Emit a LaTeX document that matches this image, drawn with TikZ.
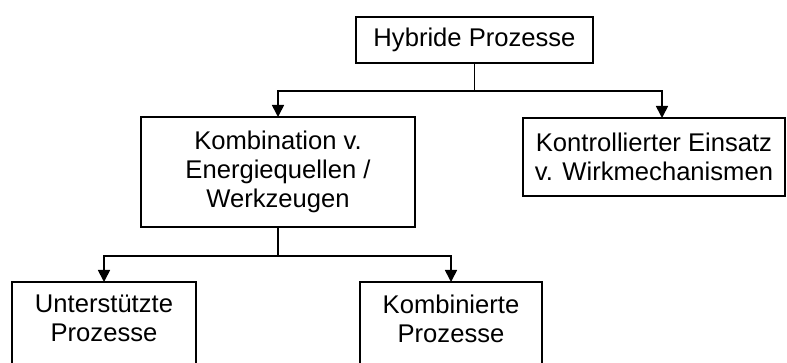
\documentclass[tikz,border=0pt]{standalone}
\usepackage{fontspec}
\setmainfont{Liberation Sans}
\usetikzlibrary{arrows.meta,calc}
\begin{document}
\begin{tikzpicture}[x=1pt,y=1pt,>={Triangle[length=12pt,width=12pt]},
  font=\fontsize{25.6}{29}\selectfont,
  box/.style={draw,line width=2.7pt,align=center,inner sep=0pt,outer sep=0pt},
  con/.style={line width=1.7pt}]
  \clip (0,0) rectangle (787,-363);
  \node[box,minimum width=237pt,minimum height=46pt](hp) at (474.5,-40){Hybride Prozesse};
  \node[box,minimum width=274pt,minimum height=110pt](kev) at (278,-172){Kombination v.\\Energiequellen /\\Werkzeugen};
  \node[box,minimum width=262pt,minimum height=78pt](kew) at (654,-157){Kontrollierter Einsatz\\v. Wirkmechanismen};
  \node[box,minimum width=184pt,anchor=north,inner ysep=12.6pt,text depth=70pt](ub) at (104,-282){Unterstützte\\Prozesse};
  \node[box,minimum width=182pt,anchor=north,inner ysep=12.6pt,text depth=70pt](kb) at (451,-282){Kombinierte\\Prozesse};
  % Verzweigungen
  \coordinate(s1) at ($(hp.south)+(0,-28)$);
  \coordinate(s2) at ($(kev.south)+(0,-29)$);
  \draw[con](hp)--(s1);\draw[con,->](s1)-|(kev.north);\draw[con,->](s1)-|([xshift=8pt]kew.north);
  \draw[con](kev)--(s2);\draw[con,->](s2)-|(ub.north);\draw[con,->](s2)-|(kb.north);
\end{tikzpicture}
\end{document}
